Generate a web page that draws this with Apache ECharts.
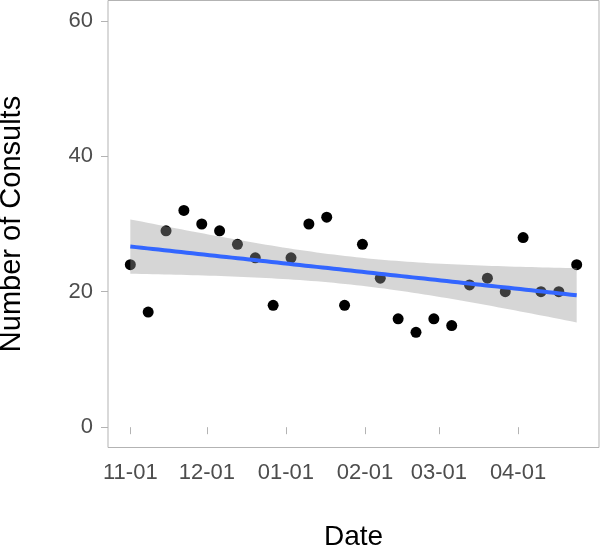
<!DOCTYPE html>
<html><head><meta charset="utf-8">
<script src="https://cdn.jsdelivr.net/npm/echarts@6/dist/echarts.min.js"></script>
<style>html,body{margin:0;padding:0;background:#fff}#c{width:600px;height:546px}</style>
</head><body><div id="c"></div>
<script>
// Weekly dates (2019-11-01 .. 2020-04-24)
const dates = ['2019-11-01','2019-11-08','2019-11-15','2019-11-22','2019-11-29','2019-12-06','2019-12-13','2019-12-20','2019-12-27','2020-01-03','2020-01-10','2020-01-17','2020-01-24','2020-01-31','2020-02-07','2020-02-14','2020-02-21','2020-02-28','2020-03-06','2020-03-13','2020-03-20','2020-03-27','2020-04-03','2020-04-10','2020-04-17','2020-04-24'];
const consults = [24,17,29,32,30,29,27,25,18,25,30,31,18,27,22,16,14,16,15,21,22,20,28,20,20,24];
const xTickDates = ['2019-11-01','2019-12-01','2020-01-01','2020-02-01','2020-03-01','2020-04-01'];
const xTickLabels = ['11-01','12-01','01-01','02-01','03-01','04-01'];
const yTicks = [0,20,40,60];

const ts = s => Date.parse(s + 'T00:00:00Z');
const xs = dates.map(ts);
const n = xs.length;

// linear model fit (geom_smooth method = "lm") with 95% CI
const xm = xs.reduce((a,b)=>a+b,0)/n, ym = consults.reduce((a,b)=>a+b,0)/n;
let sxx=0, sxy=0;
for (let i=0;i<n;i++){ sxx+=(xs[i]-xm)**2; sxy+=(xs[i]-xm)*(consults[i]-ym); }
const b1 = sxy/sxx, b0 = ym - b1*xm;
let sse=0; for (let i=0;i<n;i++){ sse += (consults[i]-(b0+b1*xs[i]))**2; }
const s = Math.sqrt(sse/(n-2));
const tcrit = 2.0639; // t(0.975, 24)
const fitLine=[], bandLo=[], bandHi=[];
const NP = 80;
for (let k=0;k<NP;k++){
  const x = xs[0] + (xs[n-1]-xs[0])*k/(NP-1);
  const f = b0 + b1*x;
  const se = s*Math.sqrt(1/n + (x-xm)**2/sxx);
  fitLine.push([x,f]); bandLo.push([x,f-tcrit*se]); bandHi.push([x,f+tcrit*se]);
}

const span = xs[n-1]-xs[0];
const chart = echarts.init(document.getElementById('c'));
const labelMap = {}; xTickDates.forEach((d,i)=>labelMap[ts(d)] = xTickLabels[i]);
const FONT = 'Liberation Sans, Arial, sans-serif';
chart.setOption({
  animation:false,
  grid:{left:108, right:1, top:0.5, height:447, show:true, borderColor:'#b3b3b3', borderWidth:1, backgroundColor:'#fff', outerBoundsMode:'none', containLabel:false},
  xAxis:{
    type:'value', min:xs[0]-span*0.05, max:xs[n-1]+span*0.05,
    splitLine:{show:false}, axisLine:{show:false},
    axisTick:{show:true, length:7, lineStyle:{color:'#b3b3b3'}, customValues:xTickDates.map(ts)},
    axisLabel:{customValues:xTickDates.map(ts), formatter:v=>labelMap[v]||'', color:'#4d4d4d', fontFamily:FONT, fontSize:22, margin:14},
    name:'Date', nameLocation:'middle', nameGap:76,
    nameTextStyle:{color:'#000', fontFamily:FONT, fontSize:28}
  },
  yAxis:{
    type:'value', min:-3, max:63,
    splitLine:{show:false}, axisLine:{show:false},
    axisTick:{show:true, length:7, lineStyle:{color:'#b3b3b3'}, customValues:yTicks},
    axisLabel:{customValues:yTicks, color:'#4d4d4d', fontFamily:FONT, fontSize:22, margin:15},
    name:'Number of Consults', nameLocation:'middle', nameGap:82,
    nameTextStyle:{color:'#000', fontFamily:FONT, fontSize:29}
  },
  series:[
    {type:'scatter', data:xs.map((x,i)=>[x,consults[i]]), symbolSize:11, itemStyle:{color:'#000', opacity:1}, z:1},
    {type:'custom', data:[0], z:2, silent:true,
      renderItem:(params, api)=>{
        const pts = bandHi.map(p=>api.coord(p)).concat(bandLo.slice().reverse().map(p=>api.coord(p)));
        return {type:'polygon', shape:{points:pts}, style:{fill:'rgba(153,153,153,0.4)'}};
      }},
    {type:'line', data:fitLine, symbol:'none', lineStyle:{color:'#3366FF', width:4}, z:3}
  ]
});
</script></body></html>
